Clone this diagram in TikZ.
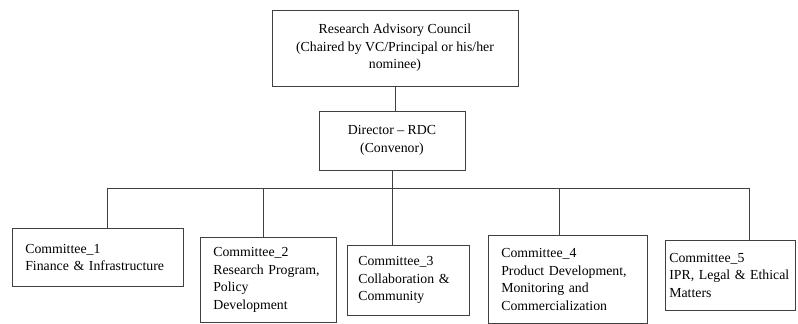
\documentclass[tikz,border=0pt]{standalone}
\usepackage{fontspec}
\setmainfont{Liberation Serif}
\begin{document}
\begin{tikzpicture}[x=1pt,y=1pt,
		line/.style={draw=black!75,line width=0.6pt},
		box/.style={line,font=\fontsize{13.8}{17.5}\selectfont,align=center},
		comm/.style={box,anchor=north west,align=left,inner xsep=13pt,inner ysep=0pt}]
			\useasboundingbox (0,0) rectangle (798,-324);

			\node[box,minimum width=246,minimum height=76] (rac) at (395,-48) {Research Advisory Council\\(Chaired by VC/Principal or his/her\\nominee)};
			\node[box,minimum width=146,minimum height=59] (dir) at (392,-140.5) {Director -- RDC\\(Convenor)};

			\node[comm,text width=145pt,minimum height=58] (c1) at (12,-228) {Committee\_1\\Finance \& Infrastructure};
			\node[comm,text width=110pt,minimum height=85] (c2) at (200,-237) {Committee\_2\\Research Program,\\Policy\\Development};
			\node[comm,inner xsep=11pt,text width=100pt,minimum height=70] (c3) at (347,-245) {Committee\_3\\Collaboration \&\\Community};
			\node[comm,text width=133pt,minimum height=88] (c4) at (488,-235) {Committee\_4\\Product Development,\\Monitoring and\\Commercialization};
			\node[comm,inner xsep=4pt,text width=122pt,minimum height=70] (c5) at (665,-240) {Committee\_5\\IPR, Legal \& Ethical\\Matters};

			\draw[line] (rac.south) -- (rac.south |- dir.north);
			\draw[line] (dir.south) -- (dir.south |- c3.north);% runs on to Committee_3

			% bus line
			\coordinate (b1) at (107,-188);
			\coordinate (b2) at (263,-188);
			\coordinate (b4) at (559,-188);
			\coordinate (b5) at (749,-188);
			\draw[line] (b1) -- (b5);
			\foreach \b/\c in {b1/c1,b2/c2,b4/c4,b5/c5}
				\draw[line] (\b) -- (\b |- \c.north);
		\end{tikzpicture}
\end{document}
